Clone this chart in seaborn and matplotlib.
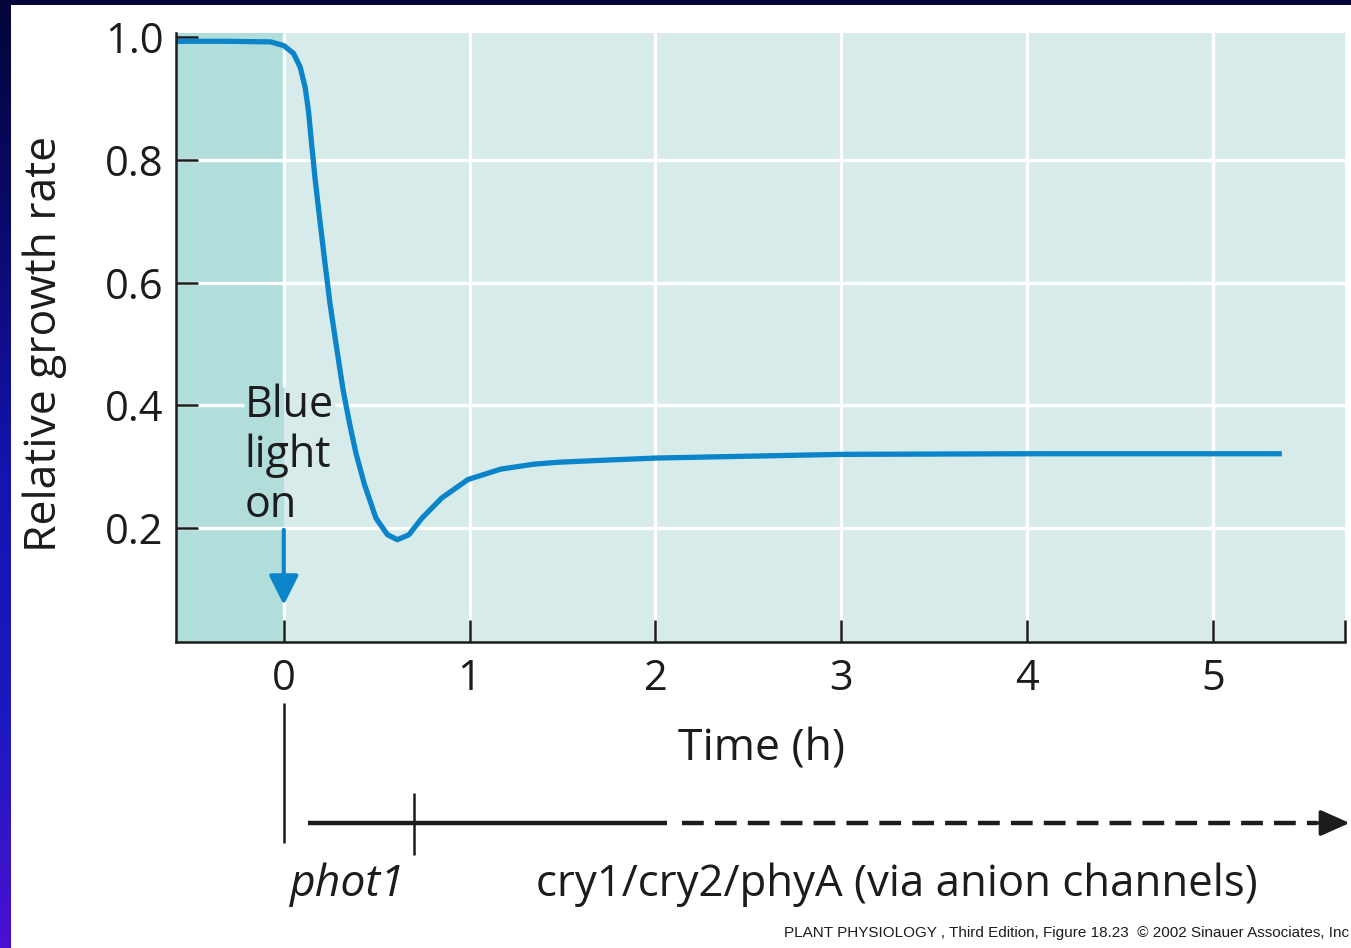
import matplotlib
matplotlib.use("Agg")
import matplotlib.pyplot as plt
import numpy as np
import pandas as pd
import seaborn as sns
from matplotlib import transforms
from matplotlib.colors import LinearSegmentedColormap
from matplotlib.patches import Rectangle

# Relative growth rate of the hypocotyl before and after blue light is switched on
time_h = [-0.58, -0.30, -0.071, 0.0, 0.053, 0.088, 0.115, 0.133, 0.150, 0.168,
          0.195, 0.221, 0.248, 0.283, 0.319, 0.354, 0.389, 0.434, 0.496, 0.558,
          0.611, 0.673, 0.743, 0.850, 0.991, 1.168, 1.345, 1.469, 1.61, 2.00,
          2.50, 3.00, 4.00, 5.37]
growth = [0.993, 0.993, 0.992, 0.986, 0.973, 0.951, 0.918, 0.879, 0.825, 0.770,
          0.699, 0.633, 0.567, 0.496, 0.425, 0.370, 0.321, 0.271, 0.216, 0.189,
          0.181, 0.189, 0.216, 0.249, 0.279, 0.296, 0.304, 0.307, 0.309, 0.314,
          0.317, 0.320, 0.321, 0.321]

x_ticks = [0, 1, 2, 3, 4, 5]
y_ticks = [0.2, 0.4, 0.6, 0.8, 1.0]
y_tick_labels = ["0.2", "0.4", "0.6", "0.8", "1.0"]
x_limits = (-0.58, 5.71)
y_limits = (0.0143, 1.0065)

# Photoreceptor phases along the time axis (hours)
light_on = 0.0
phot1_end = 0.70
solid_end = 2.06
phase_labels = ["phot1", "cry1/cry2/phyA (via anion channels)"]
phase_label_x = [0.344, 3.296]
credit = "PLANT PHYSIOLOGY , Third Edition, Figure 18.23  \u00a9 2002 Sinauer Associates, Inc"

CURVE = "#0b84c9"
DARK_BG = "#b1dedb"
LIGHT_BG = "#d7ecea"
INK = "#1c1c1c"

sns.set_theme(style="ticks")
plt.rcParams["font.family"] = ["Open Sans", "DejaVu Sans"]

W, H = 1351, 948
fig = plt.figure(figsize=(W / 100, H / 100), dpi=100)
fig.patch.set_facecolor("white")


def fy(py):
    return 1 - py / H


# Slide frame: dark band on top and a blue-purple gradient strip on the left
fig.add_artist(Rectangle((0, fy(5)), 1, 5 / H, transform=fig.transFigure,
                         facecolor="#06063a", edgecolor="none", zorder=0))
strip = fig.add_axes([0, 0, 11 / W, 1])
frame_cmap = LinearSegmentedColormap.from_list(
    "frame", ["#05053a", "#0a0a70", "#1414b0", "#1a1ac0", "#4a10d0"])
strip.imshow(np.linspace(0, 1, 256)[:, None], cmap=frame_cmap, aspect="auto")
strip.set_axis_off()

ax = fig.add_axes([176 / W, fy(642), (1345 - 176) / W, (642 - 33) / H])
ax.set_facecolor(LIGHT_BG)
ax.set_axisbelow(False)
ax.set_xlim(*x_limits)
ax.set_ylim(*y_limits)
ax.axvspan(x_limits[0], light_on, color=DARK_BG, lw=0, zorder=0)

# White grid, interrupted where the "Blue light on" label sits
grid_kw = dict(color="white", lw=2.4, zorder=1)
for gx in x_ticks[1:]:
    ax.axvline(gx, **grid_kw)
ax.vlines(light_on, y_limits[0], 0.20, **grid_kw)
ax.vlines(light_on, 0.43, y_limits[1], **grid_kw)
for gy in [0.2, 0.6, 0.8]:
    ax.axhline(gy, **grid_kw)
ax.hlines(0.4, x_limits[0], -0.215, **grid_kw)
ax.hlines(0.4, 0.275, x_limits[1], **grid_kw)

curve = pd.DataFrame({"Time (h)": time_h, "Relative growth rate": growth})
sns.lineplot(data=curve, x="Time (h)", y="Relative growth rate", ax=ax,
             color=CURVE, linewidth=3.8, zorder=3,
             solid_capstyle="butt", solid_joinstyle="round")

ax.annotate("", xy=(light_on, 0.0746), xytext=(light_on, 0.197),
            arrowprops=dict(arrowstyle="-|>,head_length=0.6,head_width=0.3",
                            mutation_scale=30, lw=3.0, color=CURVE,
                            shrinkA=0, shrinkB=0), zorder=4)
for line, yb in zip(["Blue", "light", "on"], [0.381, 0.300, 0.218]):
    ax.text(-0.21, yb, line, fontsize=31, color=INK, ha="left",
            va="baseline", zorder=5)

# Axes styling
for side in ["top", "right"]:
    ax.spines[side].set_visible(False)
for side in ["left", "bottom"]:
    ax.spines[side].set_linewidth(1.8)
    ax.spines[side].set_color(INK)
    ax.spines[side].set_zorder(6)
ax.set_xticks(x_ticks)
ax.set_xticks([x_limits[1]], minor=True)
ax.set_yticks(y_ticks)
ax.set_yticklabels(y_tick_labels)
ax.tick_params(axis="both", which="both", direction="in", length=16, width=1.8,
               color=INK, labelcolor=INK, labelsize=30)
ax.tick_params(axis="y", pad=9)
ax.tick_params(axis="x", pad=11.5)

ax.set_xlabel("Time (h)", fontsize=32, color=INK)
ax.xaxis.label.set_va("baseline")
ax.xaxis.set_label_coords(762 / W, fy(760), transform=fig.transFigure)
ax.set_ylabel("Relative growth rate", fontsize=32, color=INK)
ax.yaxis.label.set_va("center")
ax.yaxis.set_label_coords(45 / W, fy(344), transform=fig.transFigure)

# Photoreceptor timeline below the time axis
bt = transforms.blended_transform_factory(ax.transData, fig.transFigure)
line_kw = dict(color=INK, transform=bt, clip_on=False, solid_capstyle="butt")
ax.plot([light_on, light_on], [fy(703), fy(843)], lw=1.8, **line_kw)
ax.plot([phot1_end, phot1_end], [fy(793), fy(855)], lw=1.8, **line_kw)
ax.plot([0.129, solid_end], [fy(823), fy(823)], lw=3.2, **line_kw)
ax.plot([2.145, 5.56], [fy(823), fy(823)], lw=3.2, color=INK, transform=bt,
        clip_on=False, linestyle=(0, (4.9, 2.5)), dash_capstyle="butt")
ax.annotate("", xy=(5.735, fy(823)), xytext=(5.56, fy(823)),
            xycoords=bt, textcoords=bt,
            arrowprops=dict(arrowstyle="-|>,head_length=0.9,head_width=0.4",
                            mutation_scale=20, lw=2.5, color=INK,
                            shrinkA=0, shrinkB=0), annotation_clip=False)
ax.text(phase_label_x[0], fy(896), phase_labels[0], transform=bt, fontsize=32,
        style="italic", color=INK, ha="center", va="baseline")
ax.text(phase_label_x[1], fy(896), phase_labels[1], transform=bt, fontsize=31.5,
        color=INK, ha="center", va="baseline")

fig.text(1349 / W, fy(937), credit, fontsize=11, color=INK, ha="right",
         va="baseline", family=["Liberation Sans", "DejaVu Sans"])

fig.savefig("out.png", dpi=100)
